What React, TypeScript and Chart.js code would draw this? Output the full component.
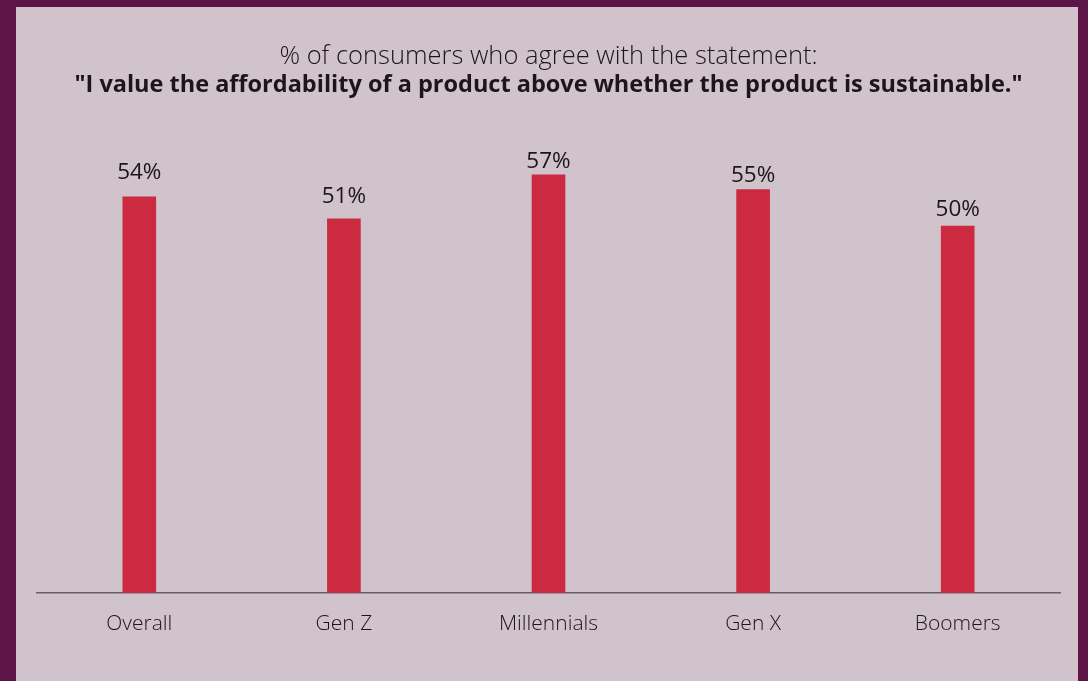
import React, { useEffect, useRef } from "react";
import { Chart, registerables } from "chart.js";

Chart.register(...registerables);

const categories = ["Overall", "Gen Z", "Millennials", "Gen X", "Boomers"];
const values = [54, 51, 57, 55, 50];
const titleLine = "% of consumers who agree with the statement:";
const subtitleLine = "\"I value the affordability of a product above whether the product is sustainable.\"";

// styling: gap (px) between each value label's baseline and its bar top, as in the source artwork
const labelGaps = [18, 16, 7, 7, 10];

const FONT = "'Open Sans', 'Noto Sans', sans-serif";
const TEXT = "#1c151a";

const valueLabels = {
  id: "valueLabels",
  afterDatasetsDraw(chart: any) {
    const ctx = chart.ctx;
    const meta = chart.getDatasetMeta(0);
    ctx.save();
    ctx.font = `400 22.5px ${FONT}`;
    ctx.fillStyle = TEXT;
    ctx.textAlign = "center";
    ctx.textBaseline = "alphabetic";
    meta.data.forEach((bar: any, i: number) => {
      ctx.fillText(`${values[i]}%`, bar.x, bar.y - labelGaps[i]);
    });
    ctx.restore();
  },
};

export default function App() {
  const ref = useRef<HTMLCanvasElement>(null);
  useEffect(() => {
    if (!ref.current) return;
    const chart = new Chart(ref.current, {
      type: "bar",
      data: {
        labels: categories,
        datasets: [
          {
            data: values,
            backgroundColor: "#cb2a41",
            barThickness: 33,
          },
        ],
      },
      options: {
        animation: false,
        responsive: false,
        maintainAspectRatio: false,
        layout: { padding: { left: 21, right: 18, top: 0, bottom: 25 } },
        plugins: {
          legend: { display: false },
          tooltip: { enabled: false },
          title: {
            display: true,
            text: titleLine,
            color: TEXT,
            font: { family: FONT, size: 25.5, weight: "300" as any, lineHeight: 1.2 },
            padding: { top: 34, bottom: 0 },
          },
          subtitle: {
            display: true,
            text: subtitleLine,
            color: TEXT,
            font: { family: FONT, size: 23.5, weight: "bold" as any, lineHeight: 1.2 },
            padding: { top: 0, bottom: 53 },
          },
        },
        scales: {
          x: {
            grid: { display: false, drawTicks: false },
            border: { display: true, color: "#6a5e66", width: 1.5 },
            ticks: {
              color: TEXT,
              padding: 19,
              font: { family: FONT, size: 21, weight: "300" as any, lineHeight: 1.2 },
            },
          },
          y: {
            display: false,
            min: 0,
            max: 60,
          },
        },
      },
      plugins: [valueLabels],
    });
    return () => chart.destroy();
  }, []);

  return (
    <div
      style={{
        position: "absolute",
        left: 0,
        top: 0,
        width: 1088,
        height: 681,
        background: "#5c1546",
        overflow: "hidden",
      }}
    >
      <div
        style={{
          position: "absolute",
          left: 16,
          top: 7,
          width: 1062,
          height: 674,
          background: "#d0c3cb",
        }}
      >
        <canvas ref={ref} width={1062} height={674} style={{ display: "block" }} />
      </div>
    </div>
  );
}
